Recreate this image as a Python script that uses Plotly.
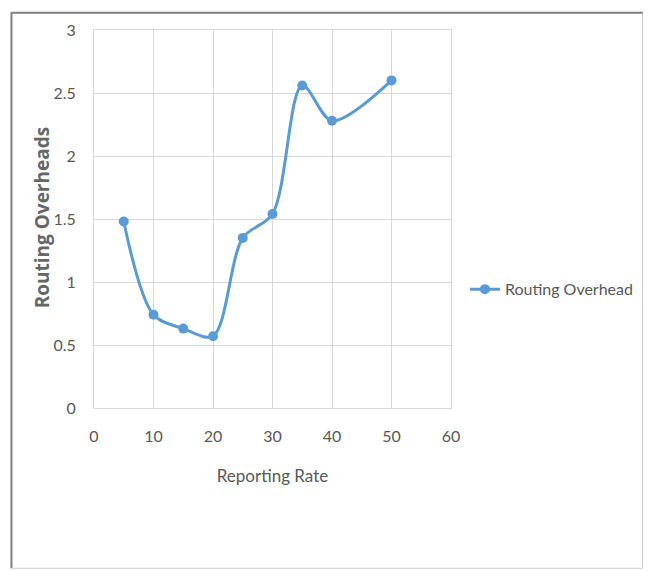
import plotly.graph_objects as go

reporting_rate = [5, 10, 15, 20, 25, 30, 35, 40, 50]
routing_overhead = [1.48, 0.74, 0.63, 0.57, 1.35, 1.54, 2.56, 2.28, 2.60]
series_name = "Routing Overhead"
x_title = "Reporting Rate"
y_title = "Routing Overheads"

OFF = 8  # page body margin offset
W, H = 651 - OFF, 571 - OFF
L, R, T, B = 94 - OFF, 453 - OFF, 26 - OFF, 408 - OFF
pw, ph = R - L, B - T

def px(x):
    return (x - OFF - L) / pw

def py(y):
    return (B - (y - OFF)) / ph

fig = go.Figure()
fig.add_trace(go.Scatter(
    x=reporting_rate, y=routing_overhead, name=series_name,
    mode="lines+markers", line=dict(color="#5b9bd5", width=3, shape="spline", smoothing=0.9),
    marker=dict(color="#5b9bd5", size=10),
))

font_fam = "Lato, 'Open Sans', sans-serif"
fig.update_layout(
    width=W, height=H,
    margin=dict(l=L, r=W - R, t=T, b=H - B),
    paper_bgcolor="white", plot_bgcolor="white",
    showlegend=True,
    legend=dict(x=px(467), y=py(288), xanchor="left", yanchor="middle",
                font=dict(family=font_fam, size=16, color="#595959"),
                bgcolor="rgba(0,0,0,0)", itemwidth=30),
    xaxis=dict(range=[0, 60], dtick=10, showgrid=True, gridcolor="#d9d9d9", gridwidth=1,
               showline=True, linecolor="#d9d9d9", mirror=True, zeroline=False,
               tickfont=dict(family=font_fam, size=16, color="#595959"),
               ticklabelstandoff=14,
               title=dict(text=x_title, font=dict(family=font_fam, size=17, color="#595959"), standoff=25)),
    yaxis=dict(range=[0, 3], dtick=0.5, showgrid=True, gridcolor="#d9d9d9", gridwidth=1,
               showline=True, linecolor="#d9d9d9", mirror=True, zeroline=False,
               tickfont=dict(family=font_fam, size=16, color="#595959"),
               ticklabelstandoff=14),
)

fig.add_annotation(text="<b>" + y_title + "</b>", xref="paper", yref="paper",
                   x=px(42), y=py(216), xanchor="center", yanchor="middle",
                   textangle=-90, showarrow=False,
                   font=dict(family="'Open Sans', sans-serif", size=19, color="#666666"))

# outer frame
fig.add_shape(type="line", xref="paper", yref="paper", x0=px(11), x1=px(646), y0=py(8.5), y1=py(8.5),
              line=dict(color="#7f7f7f", width=2))
fig.add_shape(type="line", xref="paper", yref="paper", x0=px(11), x1=px(11), y0=py(8), y1=py(570),
              line=dict(color="#7f7f7f", width=2))
fig.add_shape(type="line", xref="paper", yref="paper", x0=px(646), x1=px(646), y0=py(8), y1=py(570),
              line=dict(color="#a6a6a6", width=1))
fig.add_shape(type="line", xref="paper", yref="paper", x0=px(11), x1=px(646), y0=py(570), y1=py(570),
              line=dict(color="#d0d0d0", width=1))

fig.write_html("out.html")
